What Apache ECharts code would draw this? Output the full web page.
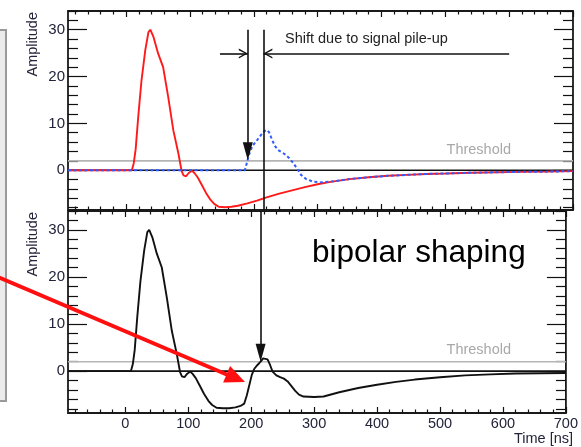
<!DOCTYPE html>
<html>
<head>
<meta charset="utf-8">
<script src="https://cdn.jsdelivr.net/npm/echarts@6/dist/echarts.min.js"></script>
<style>
html,body{margin:0;padding:0;background:#fff;}
#c{width:581px;height:447px;}
</style>
</head>
<body>
<div id="c"></div>
<script>
// ---------------- data ----------------
const xMin = -91, xMax = 700;
const yRangeTop = [-8.5, 34];
const yRangeBot = [-8.9, 34];
const xMajorTicks = [0, 100, 200, 300, 400, 500, 600, 700];
const xMinorTicks = [-80,-60,-40,-20,20,40,60,80,120,140,160,180,220,240,260,280,320,340,360,380,420,440,460,480,520,540,560,580,620,640,660,680];
const yMajorTicks = [0, 10, 20, 30];
const yMinorTicks = [-8,-6,-4,-2,2,4,6,8,12,14,16,18,22,24,26,28,32,34];
const threshold = 2;

// red: first pulse (top panel)
const redT = [-91,9,12,15,19,24,30,35,38,43,50,58,66,74,82,87,90,94,98,103,107,112,118,125,132,138,145,155,165,175,190,205,220,240,260,280,300,320,350,380,410,440,470,500,540,580,620,660,700];
const redA = [0,0,1.5,4.5,11.4,19,25.6,29.5,30,28.4,25,22,15.6,8.5,3.5,-0.2,-1.1,-1.3,-0.6,-0.1,-0.6,-1.5,-3,-4.8,-6.3,-7.2,-7.8,-7.9,-7.8,-7.6,-7.1,-6.5,-5.8,-5.0,-4.3,-3.6,-3.0,-2.5,-1.9,-1.5,-1.2,-1.0,-0.8,-0.7,-0.55,-0.45,-0.35,-0.3,-0.2];

// blue: second pulse (top panel, dashed)
const blueT = [-91,186,189,193,198,204,210,216,220,224,228,233,238,244,250,256,262,268,274,282,292,305,320,350,380,410,440,470,500,540,580,620,660,700];
const blueA = [0,0,1.5,3.5,5.2,6.2,7.3,8.3,8.6,8.1,6.7,5.2,4.3,3.8,3.3,2.5,1.5,0.3,-1,-1.9,-2.4,-2.6,-2.45,-1.9,-1.5,-1.2,-1.0,-0.8,-0.7,-0.55,-0.45,-0.35,-0.3,-0.2];

// black: piled-up signal (bottom panel)
const sumT = [-91,9,12,15,19,24,30,35,38,43,50,58,66,74,82,87,90,94,98,103,107,112,118,125,132,138,145,155,165,175,183,189,193,197,201,205,210,215,219,222,226,230,234,240,246,252,258,264,270,276,283,300,315,340,370,400,430,460,500,540,580,620,660,700];
const sumA = [0,0,1.5,4.5,11.4,19,25.6,29.5,30,28.4,25,22,15.6,8.5,3.5,-0.2,-1.1,-1.3,-0.6,-0.1,-0.6,-1.5,-3,-4.8,-6.3,-7.2,-7.8,-7.9,-7.9,-7.7,-7.4,-6.9,-5.2,-3,-0.8,0.5,1.3,2,2.7,2.9,2.5,1.3,-0.1,-0.9,-1.3,-1.6,-2.2,-3.2,-4.2,-5.0,-5.4,-5.5,-5.4,-4.5,-3.6,-2.9,-2.3,-1.8,-1.3,-0.9,-0.7,-0.5,-0.45,-0.4];

// annotation values
const arrowTop = 30;          // top of the vertical arrows
const tFirst = 190.6;         // threshold crossing, single pulse
const tShifted = 215;         // threshold crossing, piled-up
const shiftArrowY = 24.9;
const shiftArrowLeftStart = 147;
const shiftArrowRightStart = 600;

// ---------------- helpers ----------------
const zip = (a, b) => a.map((v, i) => [v, b[i]]);
const FONT = '"Liberation Sans", Arial, Helvetica, sans-serif';
const INK = '#111';

function xAxesFor(gi, showLabels) {
  const base = (pos, vals, len, labels) => ({
    type: 'value', gridIndex: gi, position: pos, min: xMin, max: xMax,
    axisLine: { show: false, onZero: false },
    splitLine: { show: false },
    axisTick: { show: true, inside: true, length: len, customValues: vals, lineStyle: { color: INK, width: 1.2 } },
    axisLabel: labels ? { show: true, customValues: vals, margin: 3, fontSize: 14.5, fontFamily: FONT, color: '#23233a', showMinLabel: true, showMaxLabel: true, hideOverlap: false } : { show: false }
  });
  return [
    base('bottom', xMajorTicks, 6, showLabels),
    base('bottom', xMinorTicks, 3.5, false),
    base('top', xMajorTicks, 6, false),
    base('top', xMinorTicks, 3.5, false)
  ];
}
function yAxesFor(gi, range) {
  const base = (pos, vals, len, labels) => ({
    type: 'value', gridIndex: gi, position: pos, min: range[0], max: range[1],
    axisLine: { show: false, onZero: false },
    splitLine: { show: false },
    axisTick: { show: true, inside: true, length: len, customValues: vals, lineStyle: { color: INK, width: 1.2 } },
    axisLabel: labels ? { show: true, customValues: vals, margin: 3, fontSize: 15, fontFamily: FONT, color: '#23233a', showMinLabel: true, showMaxLabel: true } : { show: false }
  });
  return [
    base('left', yMajorTicks, 19, true),
    base('left', yMinorTicks, 10, false),
    base('right', yMajorTicks, 19, false),
    base('right', yMinorTicks, 10, false)
  ];
}

// chevron (open arrowhead) whose tip sits at the symbol centre
const chevron = 'path://M0,18 L5,9 L10,18 L8.4,18 L5,11.6 L1.6,18 Z M5,0 L5.01,0 L5.01,0.01 Z';

const lineBase = { type: 'line', symbol: 'none', silent: true, animation: false };

const option = {
  animation: false,
  backgroundColor: '#fff',
  grid: [
    { left: 68, top: 11, width: 505, height: 199, show: true, borderColor: '#1a1a1a', borderWidth: 1.8, backgroundColor: 'transparent' },
    { left: 68, top: 211, width: 505, height: 202, show: true, borderColor: '#1a1a1a', borderWidth: 1.8, backgroundColor: 'transparent' }
  ],
  xAxis: [...xAxesFor(0, false), ...xAxesFor(1, true)],
  yAxis: [...yAxesFor(0, yRangeTop), ...yAxesFor(1, yRangeBot)],
  series: [
    // ---- top panel
    Object.assign({}, lineBase, {
      name: 'thrTop', xAxisIndex: 0, yAxisIndex: 0, z: 1,
      data: [[xMin, threshold], [xMax, threshold]],
      lineStyle: { color: '#b5b5b5', width: 1.6 }
    }),
    Object.assign({}, lineBase, {
      name: 'zeroTop', xAxisIndex: 0, yAxisIndex: 0, z: 2,
      data: [[xMin, 0], [xMax, 0]],
      lineStyle: { color: INK, width: 1.6 },
      markLine: {
        silent: true, animation: false,
        label: { show: false },
        lineStyle: { color: INK, width: 1.6, type: 'solid' },
        emphasis: { disabled: true },
        data: [
          [{ coord: [tFirst, arrowTop], symbol: 'none' }, { coord: [tFirst, 4.05], symbol: 'triangle', symbolSize: [10, 18] }],
          [{ coord: [tShifted, arrowTop], symbol: 'none' }, { coord: [tShifted, yRangeTop[0]], symbol: 'none' }],
          [{ coord: [shiftArrowLeftStart, shiftArrowY], symbol: 'none' }, { coord: [tFirst, shiftArrowY], symbol: chevron, symbolSize: [10, 18] }],
          [{ coord: [shiftArrowRightStart, shiftArrowY], symbol: 'none' }, { coord: [tShifted, shiftArrowY], symbol: chevron, symbolSize: [10, 18] }]
        ]
      }
    }),
    Object.assign({}, lineBase, {
      name: 'red', xAxisIndex: 0, yAxisIndex: 0, z: 3,
      data: zip(redT, redA),
      lineStyle: { color: '#ff1a1a', width: 1.9 }
    }),
    Object.assign({}, lineBase, {
      name: 'blue', xAxisIndex: 0, yAxisIndex: 0, z: 4,
      data: zip(blueT, blueA),
      lineStyle: { color: '#2f5cff', width: 2, type: [3, 2.5] }
    }),
    // ---- bottom panel
    Object.assign({}, lineBase, {
      name: 'thrBot', xAxisIndex: 4, yAxisIndex: 4, z: 1,
      data: [[xMin, threshold], [xMax, threshold]],
      lineStyle: { color: '#b5b5b5', width: 1.6 }
    }),
    Object.assign({}, lineBase, {
      name: 'zeroBot', xAxisIndex: 4, yAxisIndex: 4, z: 2,
      data: [[xMin, 0], [xMax, 0]],
      lineStyle: { color: INK, width: 1.6 },
      markLine: {
        silent: true, animation: false,
        label: { show: false },
        lineStyle: { color: INK, width: 1.6, type: 'solid' },
        emphasis: { disabled: true },
        data: [
          [{ coord: [tShifted, yRangeBot[1]], symbol: 'none' }, { coord: [tShifted, 3.9], symbol: 'triangle', symbolSize: [10, 18] }]
        ]
      }
    }),
    Object.assign({}, lineBase, {
      name: 'sum', xAxisIndex: 4, yAxisIndex: 4, z: 3,
      data: zip(sumT, sumA),
      lineStyle: { color: INK, width: 1.9 }
    })
  ],
  graphic: [
    // slide box at the left edge
    { type: 'rect', z: 50, shape: { x: -10, y: 30, width: 16, height: 371 }, style: { fill: '#ebebeb', stroke: '#9a9a9a', lineWidth: 2 } },
    // axis titles
    { type: 'text', z: 50, x: 33, y: 12, rotation: Math.PI / 2, style: { text: 'Amplitude', font: '14.5px ' + FONT, fill: '#23233a', align: 'right', verticalAlign: 'middle' } },
    { type: 'text', z: 50, x: 33, y: 212, rotation: Math.PI / 2, style: { text: 'Amplitude', font: '14.5px ' + FONT, fill: '#23233a', align: 'right', verticalAlign: 'middle' } },
    { type: 'text', z: 50, x: 573, y: 439, style: { text: 'Time [ns]', font: '14.5px ' + FONT, fill: '#23233a', align: 'right', verticalAlign: 'middle' } },
    // annotations
    { type: 'text', z: 50, x: 285, y: 39, style: { text: 'Shift due to signal pile-up', font: '14.5px ' + FONT, fill: '#222', align: 'left', verticalAlign: 'middle' } },
    { type: 'text', z: 50, x: 511, y: 150, style: { text: 'Threshold', font: '14.5px ' + FONT, fill: '#a8a8a8', align: 'right', verticalAlign: 'middle' } },
    { type: 'text', z: 50, x: 511, y: 350, style: { text: 'Threshold', font: '14.5px ' + FONT, fill: '#a8a8a8', align: 'right', verticalAlign: 'middle' } },
    { type: 'text', z: 50, x: 312, y: 253, style: { text: 'bipolar shaping', font: '31.5px ' + FONT, fill: '#000', align: 'left', verticalAlign: 'middle' } },
    // red pointer arrow
    { type: 'line', z: 60, shape: { x1: -2, y1: 277, x2: 229, y2: 375.5 }, style: { stroke: '#ff1010', lineWidth: 4 } },
    { type: 'polygon', z: 60, shape: { points: [[245, 382], [223.1, 382.5], [230.1, 365.9]] }, style: { fill: '#ff1010' } }
  ]
};

const chart = echarts.init(document.getElementById('c'), null, { renderer: 'canvas' });
chart.setOption(option);
</script>
</body>
</html>
